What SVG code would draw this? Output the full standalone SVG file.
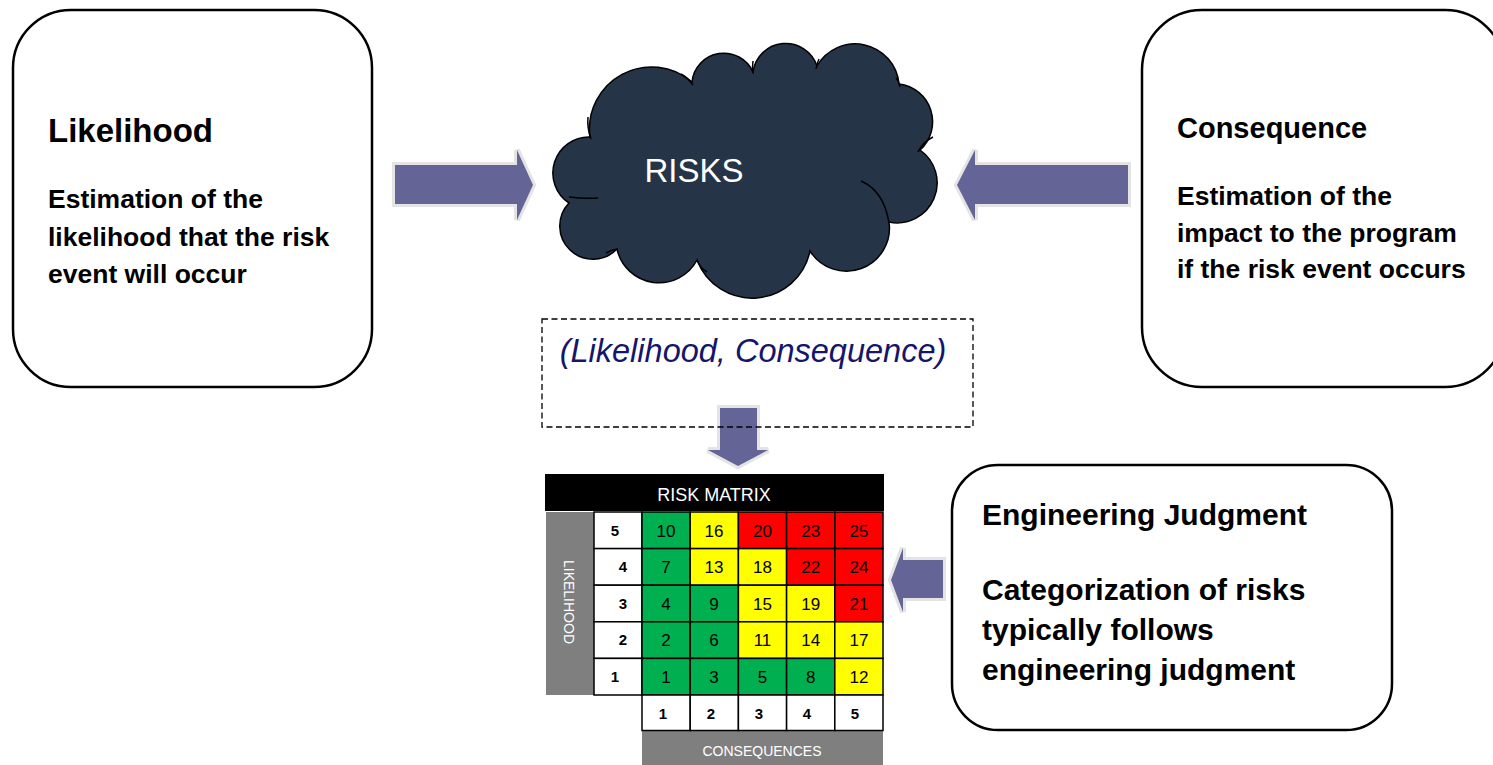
<svg xmlns="http://www.w3.org/2000/svg" width="1493" height="765" viewBox="0 0 1493 765">
  <style>
    .box { fill: #ffffff; stroke: #000000; stroke-width: 2.5; }
    .head { font-family: "Liberation Sans", Arial, sans-serif; font-weight: bold; fill: #000000; }
    .body { font-family: "Liberation Sans", Arial, sans-serif; font-weight: bold; font-size: 26.5px; fill: #000000; }
    .arrow { fill: #646496; stroke: #e4e4e4; stroke-width: 6; stroke-linejoin: miter; paint-order: stroke; }
    .cell { stroke: #000000; stroke-width: 1.5; }
    .g { fill: #00b050; }
    .y { fill: #ffff00; }
    .r { fill: #ff0000; }
    .w { fill: #ffffff; }
    .num { font-family: "Liberation Sans", Arial, sans-serif; font-size: 17px; fill: #000000; text-anchor: middle; }
    .lbl { font-family: "Liberation Sans", Arial, sans-serif; font-size: 15px; font-weight: bold; fill: #000000; text-anchor: middle; }
    .bar { fill: #7f7f7f; }
    .wt { font-family: "Liberation Sans", Arial, sans-serif; fill: #ffffff; text-anchor: middle; }
  </style>

  <!-- Likelihood box -->
  <g id="likelihood">
    <rect class="box" x="13" y="10" width="359" height="377" rx="58" ry="58"/>
    <text class="head" x="48" y="142" font-size="33">Likelihood</text>
    <text class="body" x="48" y="208">Estimation of the</text>
    <text class="body" x="48" y="246">likelihood that the risk</text>
    <text class="body" x="48" y="283">event will occur</text>
  </g>

  <!-- Consequence box (runs off the right edge) -->
  <g id="consequence">
    <rect class="box" x="1142" y="10" width="363" height="377" rx="60" ry="60"/>
    <text class="head" x="1177" y="138" font-size="29">Consequence</text>
    <text class="body" x="1177" y="205">Estimation of the</text>
    <text class="body" x="1177" y="242">impact to the program</text>
    <text class="body" x="1177" y="278">if the risk event occurs</text>
  </g>

  <!-- Risks cloud -->
  <g id="risks">
    <path d="M590,137 A62,62 0 0 1 692,82 A32,32 0 0 1 753,72 A33,33 0 0 1 817,66 A44,44 0 0 1 899,84 A38,38 0 0 1 920,150 A40,40 0 0 1 889,222 A43,43 0 0 1 810,251 A59,59 0 0 1 697,260 A43,43 0 0 1 617,249 A33,33 0 0 1 569,203 A36,36 0 0 1 590,137 Z" fill="#253447" stroke="#000000" stroke-width="1.5"/>
    <g fill="none" stroke="#000000" stroke-width="1.5">
      <path d="M588,117 Q587,128 591,139"/>
      <path d="M681,74 Q688,78 693,85"/>
      <path d="M753,61 Q752,67 753,73"/>
      <path d="M819,59 Q817,63 816,69"/>
      <path d="M896,78 Q899,81 900,87"/>
      <path d="M918,152 Q923,142 933,137"/>
      <path d="M861,181 Q884,191 889,223"/>
      <path d="M697,260 Q700,268 707,272"/>
      <path d="M606,253 Q611,250 618,249"/>
      <path d="M569,197 Q584,199 598,198"/>
    </g>
    <text class="wt" x="694" y="182" font-size="33">RISKS</text>
  </g>

  <!-- Connectors: block arrows -->
  <g id="connectors">
    <path class="arrow" d="M395,165 H517 V150 L533,185 L517,220 V204 H395 Z"/>
    <path class="arrow" d="M1128,165 H975 V150 L957,185 L975,220 V204 H1128 Z"/>
    <path class="arrow" d="M720,408 H757 V450 H768 L738,466 L708,450 H720 Z"/>
    <path class="arrow" d="M943,560 H903 V548 L891,580 L903,612 V598 H943 Z"/>
  </g>

  <!-- Rating pair label -->
  <g id="rating">
    <rect x="542" y="319" width="431" height="108" fill="none" stroke="#000000" stroke-width="1.3" stroke-dasharray="6 3.5"/>
    <text x="753" y="362" font-family="Liberation Sans, Arial, sans-serif" font-style="italic" font-size="32.5" fill="#15156b" text-anchor="middle">(Likelihood, Consequence)</text>
  </g>

  <!-- Risk matrix -->
  <g id="risk-matrix">
    <rect x="545" y="474" width="339" height="37" fill="#000000"/>
    <text class="wt" x="714" y="501" font-size="18">RISK MATRIX</text>

    <rect class="bar" x="546" y="512" width="48" height="183"/>
    <text class="wt" font-size="14" transform="translate(564,602) rotate(90)">LIKELIHOOD</text>

    <rect class="bar" x="642" y="731" width="241" height="34"/>
    <text class="wt" x="762" y="756" font-size="14">CONSEQUENCES</text>

    <!-- row labels -->
    <g class="cell w">
      <rect x="594" y="512" width="48" height="36.6"/>
      <rect x="594" y="548.6" width="48" height="36.6"/>
      <rect x="594" y="585.2" width="48" height="36.6"/>
      <rect x="594" y="621.8" width="48" height="36.6"/>
      <rect x="594" y="658.4" width="48" height="36.6"/>
    </g>
    <text class="lbl" x="615" y="536">5</text>
    <text class="lbl" x="623" y="572">4</text>
    <text class="lbl" x="623" y="609">3</text>
    <text class="lbl" x="623" y="645">2</text>
    <text class="lbl" x="615" y="682">1</text>

    <!-- likelihood 5 -->
    <rect class="cell g" x="642" y="512" width="48.2" height="36.6"/>
    <rect class="cell y" x="690.2" y="512" width="48.2" height="36.6"/>
    <rect class="cell r" x="738.4" y="512" width="48.2" height="36.6"/>
    <rect class="cell r" x="786.6" y="512" width="48.2" height="36.6"/>
    <rect class="cell r" x="834.8" y="512" width="48.2" height="36.6"/>
    <!-- likelihood 4 -->
    <rect class="cell g" x="642" y="548.6" width="48.2" height="36.6"/>
    <rect class="cell y" x="690.2" y="548.6" width="48.2" height="36.6"/>
    <rect class="cell y" x="738.4" y="548.6" width="48.2" height="36.6"/>
    <rect class="cell r" x="786.6" y="548.6" width="48.2" height="36.6"/>
    <rect class="cell r" x="834.8" y="548.6" width="48.2" height="36.6"/>
    <!-- likelihood 3 -->
    <rect class="cell g" x="642" y="585.2" width="48.2" height="36.6"/>
    <rect class="cell g" x="690.2" y="585.2" width="48.2" height="36.6"/>
    <rect class="cell y" x="738.4" y="585.2" width="48.2" height="36.6"/>
    <rect class="cell y" x="786.6" y="585.2" width="48.2" height="36.6"/>
    <rect class="cell r" x="834.8" y="585.2" width="48.2" height="36.6"/>
    <!-- likelihood 2 -->
    <rect class="cell g" x="642" y="621.8" width="48.2" height="36.6"/>
    <rect class="cell g" x="690.2" y="621.8" width="48.2" height="36.6"/>
    <rect class="cell y" x="738.4" y="621.8" width="48.2" height="36.6"/>
    <rect class="cell y" x="786.6" y="621.8" width="48.2" height="36.6"/>
    <rect class="cell y" x="834.8" y="621.8" width="48.2" height="36.6"/>
    <!-- likelihood 1 -->
    <rect class="cell g" x="642" y="658.4" width="48.2" height="36.6"/>
    <rect class="cell g" x="690.2" y="658.4" width="48.2" height="36.6"/>
    <rect class="cell g" x="738.4" y="658.4" width="48.2" height="36.6"/>
    <rect class="cell g" x="786.6" y="658.4" width="48.2" height="36.6"/>
    <rect class="cell y" x="834.8" y="658.4" width="48.2" height="36.6"/>

    <g class="num">
      <text x="666" y="536.5">10</text><text x="714" y="536.5">16</text><text x="762.5" y="536.5">20</text><text x="810.7" y="536.5">23</text><text x="859" y="536.5">25</text>
      <text x="666" y="573">7</text><text x="714" y="573">13</text><text x="762.5" y="573">18</text><text x="810.7" y="573">22</text><text x="859" y="573">24</text>
      <text x="666" y="609.5">4</text><text x="714" y="609.5">9</text><text x="762.5" y="609.5">15</text><text x="810.7" y="609.5">19</text><text x="859" y="609.5">21</text>
      <text x="666" y="646">2</text><text x="714" y="646">6</text><text x="762.5" y="646">11</text><text x="810.7" y="646">14</text><text x="859" y="646">17</text>
      <text x="666" y="682.5">1</text><text x="714" y="682.5">3</text><text x="762.5" y="682.5">5</text><text x="810.7" y="682.5">8</text><text x="859" y="682.5">12</text>
    </g>

    <!-- consequence labels -->
    <g class="cell w">
      <rect x="642" y="695" width="48.2" height="35.5"/>
      <rect x="690.2" y="695" width="48.2" height="35.5"/>
      <rect x="738.4" y="695" width="48.2" height="35.5"/>
      <rect x="786.6" y="695" width="48.2" height="35.5"/>
      <rect x="834.8" y="695" width="48.2" height="35.5"/>
    </g>
    <text class="lbl" x="663" y="719">1</text>
    <text class="lbl" x="711" y="719">2</text>
    <text class="lbl" x="759" y="719">3</text>
    <text class="lbl" x="807" y="719">4</text>
    <text class="lbl" x="855" y="719">5</text>
  </g>

  <!-- Engineering judgment box -->
  <g id="engineering-judgment">
    <rect class="box" x="952" y="465" width="440" height="265" rx="46" ry="46"/>
    <text class="head" x="982" y="525" font-size="30">Engineering Judgment</text>
    <text class="head" x="982" y="600" font-size="30">Categorization of risks</text>
    <text class="head" x="982" y="640" font-size="30">typically follows</text>
    <text class="head" x="982" y="680" font-size="30">engineering judgment</text>
  </g>
</svg>
